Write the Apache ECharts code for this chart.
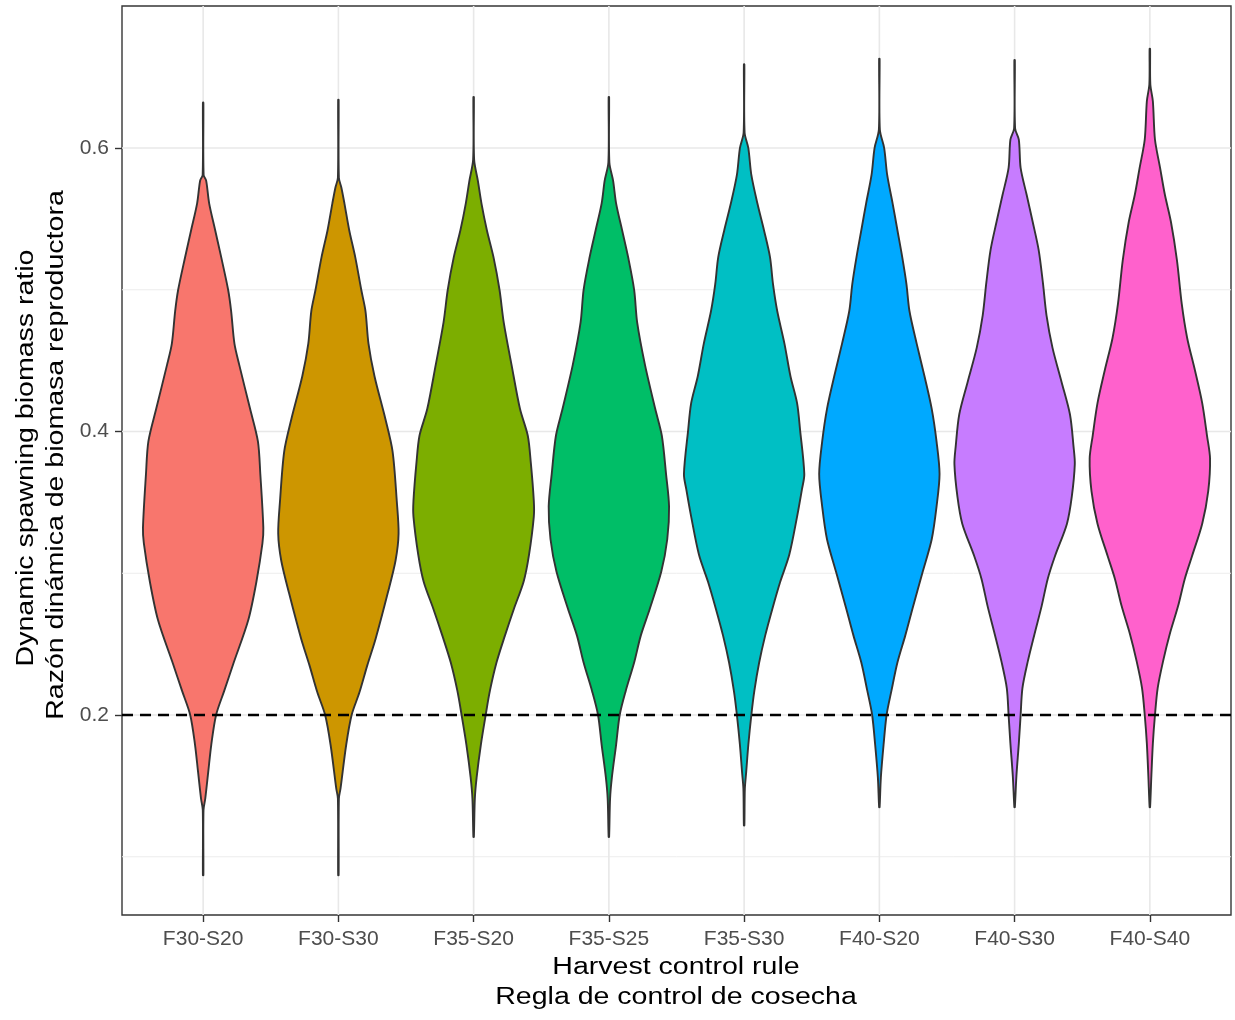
<!DOCTYPE html>
<html>
<head>
<meta charset="utf-8">
<script src="https://cdn.jsdelivr.net/npm/echarts@6/dist/echarts.min.js"></script>
<style>
  html, body { margin: 0; padding: 0; background: #ffffff; }
  #chart { width: 1235px; height: 1020px; }
</style>
</head>
<body>
<div id="chart"></div>
<script>
// Harvest control rules (x categories)
const categories = ['F30-S20', 'F30-S30', 'F35-S20', 'F35-S25', 'F35-S30', 'F40-S20', 'F40-S30', 'F40-S40'];

// Kernel density profiles of the dynamic spawning biomass ratio:
// each pair is [ratio, density relative to the violin's peak]
const densF30S20 = [[0.087,0.004],[0.133,0.006],[0.141,0.035],[0.160,0.085],[0.179,0.135],[0.200,0.215],[0.217,0.35],[0.236,0.5],[0.267,0.75],[0.294,0.885],[0.321,0.985],[0.332,1.0],[0.370,0.95],[0.393,0.91],[0.416,0.78],[0.447,0.6],[0.462,0.52],[0.485,0.465],[0.500,0.415],[0.523,0.3],[0.542,0.2],[0.561,0.1],[0.577,0.05],[0.581,0.008],[0.632,0.004]];
const densF30S30 = [[0.087,0.004],[0.141,0.008],[0.148,0.035],[0.179,0.13],[0.200,0.22],[0.216,0.35],[0.235,0.48],[0.254,0.62],[0.286,0.82],[0.309,0.95],[0.328,1.0],[0.351,0.97],[0.386,0.9],[0.409,0.78],[0.439,0.6],[0.462,0.5],[0.485,0.45],[0.500,0.38],[0.523,0.28],[0.542,0.18],[0.561,0.1],[0.572,0.05],[0.579,0.008],[0.634,0.004]];
const densF35S20 = [[0.114,0.004],[0.141,0.02],[0.156,0.05],[0.179,0.12],[0.200,0.2],[0.217,0.27],[0.237,0.38],[0.256,0.52],[0.275,0.67],[0.294,0.83],[0.313,0.92],[0.340,1.0],[0.351,1.0],[0.378,0.95],[0.397,0.9],[0.416,0.77],[0.447,0.63],[0.477,0.5],[0.500,0.43],[0.523,0.33],[0.542,0.22],[0.561,0.13],[0.577,0.07],[0.592,0.008],[0.636,0.004]];
const densF35S25 = [[0.114,0.004],[0.141,0.02],[0.156,0.05],[0.179,0.12],[0.200,0.18],[0.217,0.28],[0.237,0.42],[0.256,0.53],[0.275,0.68],[0.301,0.87],[0.324,0.97],[0.347,1.0],[0.370,0.95],[0.397,0.88],[0.416,0.77],[0.447,0.6],[0.477,0.47],[0.500,0.42],[0.523,0.32],[0.542,0.22],[0.561,0.12],[0.577,0.07],[0.590,0.008],[0.636,0.004]];
const densF35S30 = [[0.122,0.004],[0.148,0.012],[0.160,0.035],[0.179,0.07],[0.200,0.12],[0.217,0.17],[0.237,0.25],[0.256,0.35],[0.275,0.47],[0.294,0.6],[0.313,0.75],[0.340,0.88],[0.359,0.96],[0.370,1.0],[0.401,0.93],[0.420,0.88],[0.439,0.77],[0.462,0.67],[0.485,0.55],[0.504,0.48],[0.523,0.43],[0.542,0.33],[0.561,0.22],[0.581,0.12],[0.600,0.07],[0.611,0.008],[0.659,0.004]];
const densF40S20 = [[0.135,0.004],[0.156,0.025],[0.179,0.07],[0.200,0.12],[0.217,0.2],[0.237,0.3],[0.256,0.43],[0.275,0.55],[0.301,0.72],[0.324,0.87],[0.347,0.95],[0.370,1.0],[0.393,0.95],[0.416,0.87],[0.439,0.75],[0.462,0.62],[0.485,0.5],[0.504,0.45],[0.523,0.38],[0.542,0.3],[0.561,0.22],[0.581,0.13],[0.600,0.08],[0.613,0.008],[0.663,0.004]];
const densF40S30 = [[0.135,0.004],[0.157,0.03],[0.180,0.07],[0.200,0.1],[0.219,0.13],[0.238,0.22],[0.257,0.33],[0.277,0.45],[0.296,0.55],[0.312,0.67],[0.335,0.87],[0.354,0.95],[0.377,1.0],[0.389,0.98],[0.412,0.92],[0.435,0.78],[0.459,0.63],[0.482,0.53],[0.505,0.47],[0.528,0.4],[0.548,0.3],[0.567,0.2],[0.586,0.1],[0.606,0.07],[0.614,0.008],[0.662,0.004]];
const densF40S40 = [[0.135,0.004],[0.157,0.025],[0.180,0.05],[0.200,0.085],[0.219,0.13],[0.238,0.22],[0.257,0.33],[0.277,0.47],[0.296,0.58],[0.312,0.7],[0.335,0.87],[0.358,0.97],[0.381,1.0],[0.397,0.95],[0.420,0.87],[0.443,0.75],[0.466,0.62],[0.490,0.53],[0.521,0.45],[0.548,0.35],[0.567,0.25],[0.586,0.17],[0.606,0.085],[0.633,0.05],[0.645,0.008],[0.670,0.004]];

// Y-axis ticks, gridlines and the 0.2 reference level
const yTickValues = [0.2, 0.4, 0.6];
const yMinorGrid = [0.1, 0.3, 0.5];
const referenceRatio = 0.2;

// ---- drawing ----
const profiles = [densF30S20, densF30S30, densF35S20, densF35S25, densF35S30, densF40S20, densF40S30, densF40S40];
const fills = ['#F8766D', '#CD9600', '#7CAE00', '#00BE67', '#00BFC4', '#00A9FF', '#C77CFF', '#FF61CC'];
const xPositions = categories.map((c, i) => i + 1);
const X_MIN = 0.4, X_MAX = 8.6;
const Y_MIN = 0.0589, Y_MAX = 0.7002;
const HALF_WIDTH = 0.445;   // peak half-width of each violin, in category units
const FONT = '"Liberation Sans", Arial, sans-serif';

const chart = echarts.init(document.getElementById('chart'), null, { renderer: 'canvas' });

function hLine(color, width, dash) {
  return function (params, api) {
    const v = api.value(0);
    const a = api.coord([X_MIN, v]);
    const b = api.coord([X_MAX, v]);
    return {
      type: 'line',
      shape: { x1: a[0], y1: a[1], x2: b[0], y2: b[1] },
      style: { stroke: color, lineWidth: width, lineDash: dash || null }
    };
  };
}

function titleText(text, x, y, rotated) {
  return {
    type: 'text', x: x, y: y, rotation: rotated ? Math.PI / 2 : 0, scaleX: 1.24, silent: true,
    style: { text: text, fill: '#000000', font: '23px ' + FONT, align: 'center', verticalAlign: 'middle' }
  };
}

const option = {
  animation: false,
  backgroundColor: '#ffffff',
  grid: {
    left: 122, top: 6, width: 1109, height: 909,
    show: true, borderColor: '#363636', borderWidth: 1.4, backgroundColor: 'transparent'
  },
  xAxis: {
    type: 'value', min: X_MIN, max: X_MAX,
    axisLine: { show: false },
    splitLine: { show: false },
    axisTick: { show: true, length: 7, customValues: xPositions, lineStyle: { color: '#333333', width: 1.4 } },
    axisLabel: {
      customValues: xPositions, margin: 14, hideOverlap: false,
      color: '#4D4D4D', fontSize: 21, fontFamily: FONT,
      formatter: v => categories[Math.round(v) - 1]
    }
  },
  yAxis: {
    type: 'value', min: Y_MIN, max: Y_MAX,
    axisLine: { show: false },
    splitLine: { show: false },
    axisTick: { show: true, length: 7, customValues: yTickValues, lineStyle: { color: '#333333', width: 1.4 } },
    axisLabel: {
      customValues: yTickValues, margin: 13,
      color: '#4D4D4D', fontSize: 21, fontFamily: FONT,
      formatter: v => v.toFixed(1)
    }
  },
  graphic: [
    titleText('Harvest control rule', 676, 968, false),
    titleText('Regla de control de cosecha', 676, 998, false),
    titleText('Dynamic spawning biomass ratio', 27, 458, true),
    titleText('Razón dinámica de biomasa reproductora', 57, 455, true)
  ],
  series: [
    { // minor horizontal gridlines
      type: 'custom', z: 1, silent: true,
      data: yMinorGrid.map(v => [v]), encode: { y: 0 },
      renderItem: hLine('#EDEDED', 1.0)
    },
    { // major horizontal gridlines
      type: 'custom', z: 1, silent: true,
      data: yTickValues.map(v => [v]), encode: { y: 0 },
      renderItem: hLine('#E8E8E8', 1.6)
    },
    { // vertical gridlines at each rule
      type: 'custom', z: 1, silent: true,
      data: xPositions.map(v => [v]), encode: { x: 0 },
      renderItem: function (params, api) {
        const x = api.value(0);
        const a = api.coord([x, Y_MIN]);
        const b = api.coord([x, Y_MAX]);
        return { type: 'line', shape: { x1: a[0], y1: a[1], x2: b[0], y2: b[1] },
                 style: { stroke: '#E8E8E8', lineWidth: 1.6 } };
      }
    },
    { // violins
      type: 'custom', z: 3, silent: true,
      data: xPositions.map(v => [v]), encode: { x: 0 },
      renderItem: function (params, api) {
        const i = params.dataIndex;
        const x = api.value(0);
        const prof = profiles[i];
        const pts = [];
        for (let k = 0; k < prof.length; k++) pts.push(api.coord([x + prof[k][1] * HALF_WIDTH, prof[k][0]]));
        for (let k = prof.length - 1; k >= 0; k--) pts.push(api.coord([x - prof[k][1] * HALF_WIDTH, prof[k][0]]));
        return {
          type: 'polygon',
          shape: { points: pts, smooth: 0.3 },
          style: { fill: fills[i], stroke: '#333333', lineWidth: 1.9, lineJoin: 'round' }
        };
      }
    },
    { // dashed reference level
      type: 'custom', z: 5, silent: true,
      data: [[referenceRatio]], encode: { y: 0 },
      renderItem: hLine('#000000', 2.3, [11, 7])
    }
  ]
};
chart.setOption(option);
</script>
</body>
</html>
